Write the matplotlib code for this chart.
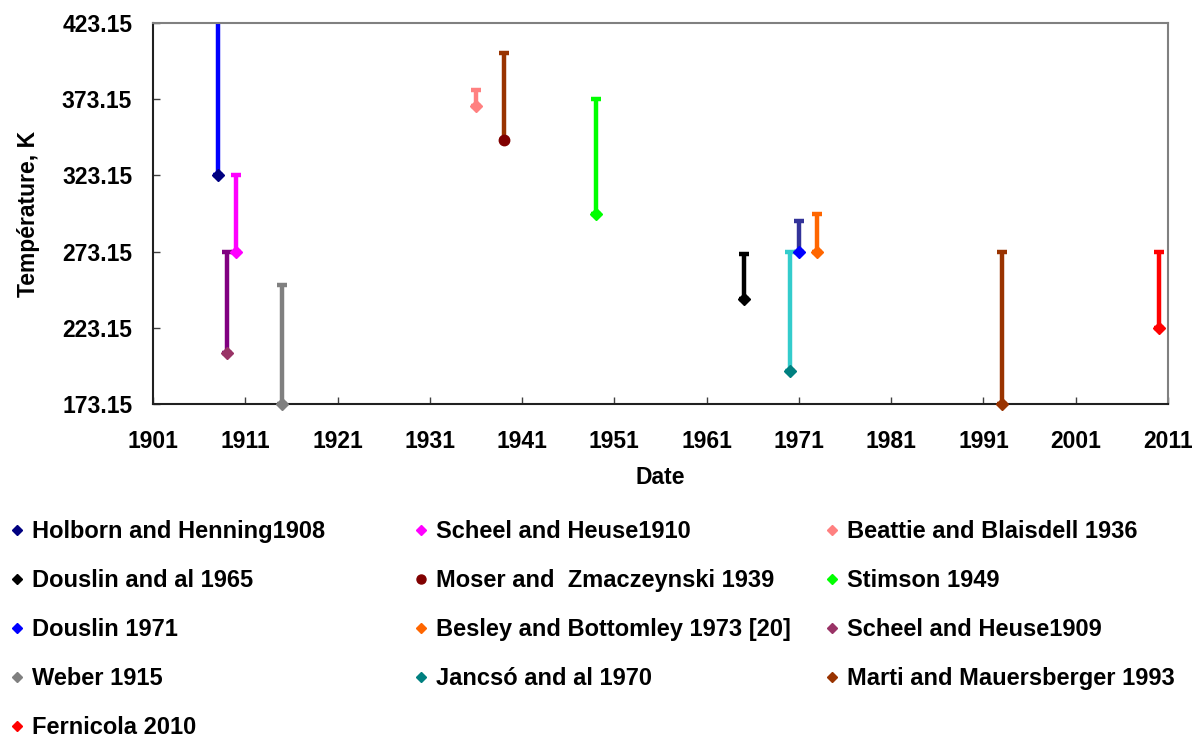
import matplotlib
matplotlib.use("Agg")
import matplotlib.pyplot as plt
from matplotlib.lines import Line2D
import numpy as np

plt.rcParams['font.family'] = ['Liberation Sans', 'DejaVu Sans']
plt.rcParams['font.weight'] = 'bold'

# data: year of study, lowest and highest temperature (K)
labels = ['Holborn and Henning1908', 'Scheel and Heuse1910', 'Beattie and Blaisdell 1936',
          'Douslin and al 1965', 'Moser and  Zmaczeynski 1939', 'Stimson 1949',
          'Douslin 1971', 'Besley and Bottomley 1973 [20]', 'Scheel and Heuse1909',
          'Weber 1915', 'Jancsó and al 1970', 'Marti and Mauersberger 1993',
          'Fernicola 2010']
years = [1908, 1910, 1936, 1965, 1939, 1949, 1971, 1973, 1909, 1915, 1970, 1993, 2010]
t_min = [323.15, 273.15, 369.0, 242.2, 346.4, 298.15, 273.15, 273.15, 206.4, 173.15, 195.0, 173.15, 223.15]
t_max = [473.15, 323.15, 379.5, 271.6, 403.3, 373.15, 293.2, 298.15, 273.15, 251.4, 273.15, 273.15, 273.15]

marker_colors = ['#000080', '#FF00FF', '#FF8080', '#000000', '#800000', '#00FF00', '#0000FF',
                 '#FF6600', '#993366', '#808080', '#008080', '#993300', '#FF0000']
bar_colors = ['#0000FF', '#FF00FF', '#FF8080', '#000000', '#993300', '#00FF00', '#333399',
              '#FF6600', '#800080', '#808080', '#33CCCC', '#993300', '#FF0000']
markers = ['D', 'D', 'D', 'D', 'o', 'D', 'D', 'D', 'D', 'D', 'D', 'D', 'D']

fig = plt.figure(figsize=(12.03, 7.40), dpi=100)
ax = fig.add_axes([153 / 1203, 1 - 404 / 740, (1168 - 153) / 1203, (404 - 23) / 740])

handles = []
for i in range(len(labels)):
    up = t_max[i] - t_min[i]
    ax.errorbar([years[i]], [t_min[i]], yerr=[[0], [up]], fmt='none',
                ecolor=bar_colors[i], elinewidth=3.2, capsize=3.5, capthick=3.2, zorder=2)
    ms = 6 if markers[i] == 'D' else 7.5
    ax.plot([years[i]], [t_min[i]], linestyle='none', marker=markers[i], ms=ms,
            color=marker_colors[i], zorder=3, clip_on=False)
    handles.append(Line2D([], [], linestyle='none', marker=markers[i],
                          ms=5.5 if markers[i] == 'D' else 6.5, color=marker_colors[i]))

ax.set_xlim(1901, 2011)
ax.set_ylim(173.15, 423.15)
xt = np.arange(1901, 2012, 10)
ax.set_xticks(xt)
ax.set_xticklabels([str(v) for v in xt])
yt = np.arange(173.15, 423.16, 50)
ax.set_yticks(yt)
ax.set_yticklabels(['%.2f' % v for v in yt])
ax.tick_params(direction='in', length=5, width=1, labelsize=16.5, colors='#404040',
               labelcolor='black')
ax.tick_params(axis='x', pad=19)
ax.tick_params(axis='y', pad=15)
for s in ['left', 'bottom']:
    ax.spines[s].set_color('#202020')
    ax.spines[s].set_linewidth(1.5)
for s in ['top', 'right']:
    ax.spines[s].set_color('#808080')
    ax.spines[s].set_linewidth(1.5)

ax.set_xlabel('Date', fontsize=16.5, fontweight='bold', labelpad=9)
ax.set_ylabel('Température, K', fontsize=16.5, fontweight='bold', labelpad=16)

# legend in three columns, row-major order as in the original
cols = [[0, 3, 6, 9, 12], [1, 4, 7, 10], [2, 5, 8, 11]]
x_pos = [10, 414, 825]
for c, idx in enumerate(cols):
    leg = fig.legend([handles[k] for k in idx], [labels[k] for k in idx],
                     loc='upper left', bbox_to_anchor=(x_pos[c] / 1203, 1 - 520 / 740),
                     frameon=False, fontsize=17, handlelength=0.6, handletextpad=0.35,
                     labelspacing=1.1, borderpad=0, borderaxespad=0)

fig.savefig('out.png', dpi=100)
